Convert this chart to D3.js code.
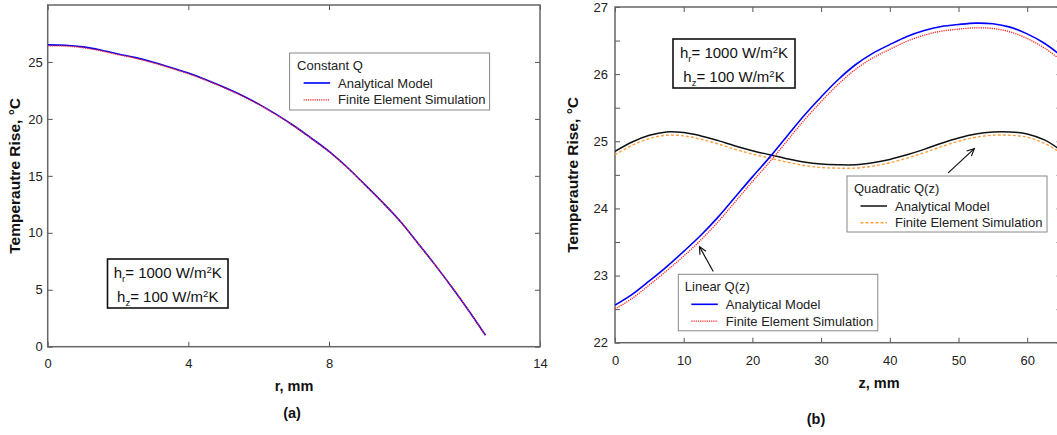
<!DOCTYPE html>
<html>
<head>
<meta charset="utf-8">
<script src="https://cdn.jsdelivr.net/npm/d3@7"></script>
<style>
body { margin: 0; background: #fff; overflow: hidden; }
svg { display: block; font-family: "Liberation Sans", Arial, sans-serif; }
.tick text { font-size: 13px; fill: #222; }
.tick line { stroke: #555; stroke-width: 1; }
.frame { fill: none; stroke: #666; stroke-width: 1.5; }
.lgd { fill: #fff; stroke: #888; stroke-width: 1; }
.pbox { fill: #fff; stroke: #111; stroke-width: 1.6; }
.ttl { font-size: 14.5px; font-weight: bold; fill: #111; }
</style>
</head>
<body>
<svg width="1057" height="435"></svg>
<script>
// ---- panel (a): constant Q, temperature rise vs r ----
var rVals = [0, 0.5, 1, 1.5, 2, 2.5, 3, 3.5, 4, 4.5, 5, 5.5, 6, 6.5, 7, 7.5, 8, 8.5, 9, 9.5, 10, 10.5, 11, 11.5, 12, 12.45];
var constAnalytical = [26.5, 26.46, 26.32, 26.05, 25.7, 25.38, 24.98, 24.52, 24.02, 23.44, 22.8, 22.1, 21.3, 20.4, 19.4, 18.3, 17.15, 15.8, 14.3, 12.75, 11.1, 9.2, 7.25, 5.2, 3.05, 1.0];
var constFE = [26.42, 26.39, 26.25, 25.98, 25.64, 25.32, 24.92, 24.46, 23.96, 23.39, 22.75, 22.05, 21.26, 20.36, 19.37, 18.27, 17.12, 15.78, 14.28, 12.74, 11.09, 9.19, 7.24, 5.2, 3.05, 1.0];
var rTicks = [0, 4, 8, 14];
var tempTicksA = [0, 5, 10, 15, 20, 25];

// ---- panel (b): linear and quadratic Q(z), temperature rise vs z ----
var zVals = [0, 2.5, 5, 7.5, 10, 12.5, 15, 17.5, 20, 22.5, 25, 27.5, 30, 32.5, 35, 37.5, 40, 42.5, 45, 47.5, 50, 52.5, 55, 57.5, 60, 62.5, 65];
var linAnalytical = [22.56, 22.72, 22.92, 23.13, 23.36, 23.6, 23.87, 24.17, 24.47, 24.76, 25.07, 25.38, 25.66, 25.92, 26.14, 26.31, 26.44, 26.56, 26.65, 26.71, 26.74, 26.76, 26.75, 26.7, 26.6, 26.46, 26.27];
var linFE = [22.5, 22.66, 22.86, 23.07, 23.29, 23.53, 23.8, 24.1, 24.4, 24.69, 25.0, 25.31, 25.59, 25.85, 26.07, 26.24, 26.37, 26.49, 26.58, 26.64, 26.67, 26.69, 26.68, 26.63, 26.53, 26.39, 26.2];
var quadAnalytical = [24.85, 24.99, 25.09, 25.14, 25.13, 25.08, 25.01, 24.93, 24.86, 24.8, 24.74, 24.69, 24.66, 24.65, 24.65, 24.68, 24.73, 24.8, 24.88, 24.97, 25.05, 25.11, 25.14, 25.14, 25.11, 25.02, 24.86];
var quadFE = [24.8, 24.94, 25.04, 25.09, 25.08, 25.03, 24.96, 24.88, 24.81, 24.75, 24.69, 24.64, 24.61, 24.6, 24.6, 24.63, 24.68, 24.75, 24.83, 24.92, 25.0, 25.06, 25.09, 25.09, 25.06, 24.97, 24.82];
var zTicks = [0, 10, 20, 30, 40, 50, 60];
var tempTicksB = [22, 22.5, 23, 23.5, 24, 24.5, 25, 25.5, 26, 26.5, 27];

var styles = {
    blue:   {color: '#0000ff', width: 1.6, dash: null},
    red:    {color: '#ff2020', width: 1.3, dash: '1.2,1'},
    black:  {color: '#111111', width: 1.5, dash: null},
    orange: {color: '#ffa040', width: 1.4, dash: '3,2'}
};

var svg = d3.select('svg');

// panel a
var pa = getPanel(47.7, 5, 540, 346.7);
var xa = d3.scaleLinear().domain([0, 14]).range([pa.x0, pa.x1]);
var ya = d3.scaleLinear().domain([0, 30]).range([pa.y1, pa.y0]);
addAxes(pa, xa, ya, rTicks, tempTicksA, 12, 5, function(d) { return d; });
addLine(pa, xa, ya, rVals, constAnalytical, styles.blue);
addLine(pa, xa, ya, rVals, constFE, styles.red);
addLegend(289.6, 53, 200, 57, 'Constant Q', ['Analytical Model', 'Finite Element Simulation'], [styles.blue, styles.red], 7.5);
addParamBox(107.5, 259, 120.5, 49);
addTitle(294, 391, 'r, mm');
addTitle(292, 418, '(a)');
addYTitle(15, (pa.y0 + pa.y1) / 2);

// panel b
var pb = getPanel(615, 7, 615 + 65 * 6.87, 342.7);
var xb = d3.scaleLinear().domain([0, 65]).range([pb.x0, pb.x1]);
var yb = d3.scaleLinear().domain([22, 27]).range([pb.y1, pb.y0]);
addAxes(pb, xb, yb, zTicks, tempTicksB, 13, 7, function(d) { return Number.isInteger(d) ? d : ''; });
addLine(pb, xb, yb, zVals, quadAnalytical, styles.black);
addLine(pb, xb, yb, zVals, quadFE, styles.orange);
addLine(pb, xb, yb, zVals, linAnalytical, styles.blue);
addLine(pb, xb, yb, zVals, linFE, styles.red);
addArrow(xb(48.5), yb(24.53), xb(52.3), yb(24.89));
addArrow(xb(14.3), yb(23.06), xb(12.3), yb(23.43));
addLegend(847, 176, 200, 56, 'Quadratic Q(z)', ['Analytical Model', 'Finite Element Simulation'], [styles.black, styles.orange], 7);
addLegend(678.3, 274.3, 199.5, 56.5, 'Linear Q(z)', ['Analytical Model', 'Finite Element Simulation'], [styles.blue, styles.red], 6.5);
addParamBox(673, 39, 122, 49);
addTitle(879, 388, 'z, mm');
addTitle(816, 424, '(b)');
addYTitle(573, (pb.y0 + pb.y1) / 2);


function getPanel(x0, y0, x1, y1) {
    var g = svg.append('g');
    var id = 'clip' + Math.round(x0);
    svg.append('clipPath').attr('id', id).append('rect')
        .attr('x', x0).attr('y', y0).attr('width', x1 - x0).attr('height', y1 - y0);
    g.clip = 'url(#' + id + ')';
    g.x0 = x0; g.y0 = y0; g.x1 = x1; g.y1 = y1;
    return g;
}

function addAxes(p, x, y, xt, yt, xpad, ypad, yfmt) {
    p.append('g').attr('transform', 'translate(0,' + p.y1 + ')')
        .call(d3.axisBottom(x).tickValues(xt).tickSizeInner(-5).tickSizeOuter(0).tickPadding(xpad));
    p.append('g').attr('transform', 'translate(0,' + p.y0 + ')')
        .call(d3.axisTop(x).tickValues(xt).tickSizeInner(-5).tickSizeOuter(0).tickFormat(''));
    p.append('g').attr('transform', 'translate(' + p.x0 + ',0)')
        .call(d3.axisLeft(y).tickValues(yt).tickSizeInner(-5).tickSizeOuter(0).tickPadding(ypad).tickFormat(yfmt));
    p.append('g').attr('transform', 'translate(' + p.x1 + ',0)')
        .call(d3.axisRight(y).tickValues(yt).tickSizeInner(-5).tickSizeOuter(0).tickFormat(''));
    p.selectAll('.domain').remove();
    p.selectAll('.tick text').attr('font-family', null).attr('font-size', null);
    p.append('rect').attr('class', 'frame')
        .attr('x', p.x0).attr('y', p.y0).attr('width', p.x1 - p.x0).attr('height', p.y1 - p.y0);
}

function addLine(p, x, y, xs, ys, st) {
    var line = d3.line().curve(d3.curveCatmullRom)
        .x(function(d) { return x(d[0]); })
        .y(function(d) { return y(d[1]); });
    p.append('path').datum(d3.zip(xs, ys))
        .attr('clip-path', p.clip)
        .attr('d', line)
        .attr('fill', 'none')
        .attr('stroke', st.color)
        .attr('stroke-width', st.width)
        .attr('stroke-dasharray', st.dash);
}

function addLegend(x, y, w, h, title, names, sts, pad) {
    var g = svg.append('g');
    g.append('rect').attr('class', 'lgd').attr('x', x).attr('y', y).attr('width', w).attr('height', h);
    g.append('text').attr('x', x + pad).attr('y', y + 16.5).attr('font-size', 13).attr('fill', '#222').text(title);
    names.forEach(function(n, i) {
        var cy = y + 30 + i * 16.8;
        g.append('line').attr('x1', x + pad + 6.5).attr('x2', x + pad + 33).attr('y1', cy).attr('y2', cy)
            .attr('stroke', sts[i].color).attr('stroke-width', sts[i].width).attr('stroke-dasharray', sts[i].dash);
        g.append('text').attr('x', x + pad + 41).attr('y', cy + 4.6).attr('font-size', 13).attr('fill', '#222').text(n);
    });
}

function addParamBox(x, y, w, h) {
    var g = svg.append('g');
    g.append('rect').attr('class', 'pbox').attr('x', x).attr('y', y).attr('width', w).attr('height', h);
    ['r', 'z'].forEach(function(s, i) {
        var t = g.append('text').attr('x', x + w / 2).attr('y', y + 18.5 + i * 24)
            .attr('text-anchor', 'middle').attr('font-size', 15).attr('fill', '#111');
        t.append('tspan').text('h');
        t.append('tspan').attr('font-size', 9.5).attr('dy', 4).text(s);
        t.append('tspan').attr('dy', -4).text(i === 0 ? '= 1000 W/m' : '= 100 W/m');
        t.append('tspan').attr('font-size', 9.5).attr('dy', -5).text('2');
        t.append('tspan').attr('dy', 5).text('K');
    });
}

function addArrow(x1, y1, x2, y2) {
    var a = Math.atan2(y2 - y1, x2 - x1), L = 8, s = 0.45;
    var g = svg.append('g').attr('stroke', '#111').attr('stroke-width', 1.2).attr('fill', 'none');
    g.append('line').attr('x1', x1).attr('y1', y1).attr('x2', x2).attr('y2', y2);
    g.append('path').attr('d', 'M' + (x2 - L * Math.cos(a - s)) + ',' + (y2 - L * Math.sin(a - s)) +
        'L' + x2 + ',' + y2 + 'L' + (x2 - L * Math.cos(a + s)) + ',' + (y2 - L * Math.sin(a + s)));
}

function addTitle(x, y, txt) {
    svg.append('text').attr('class', 'ttl').attr('x', x).attr('y', y).attr('text-anchor', 'middle').text(txt);
}

function addYTitle(x, y) {
    svg.append('text').attr('class', 'ttl').style('font-size', '15.5px')
        .attr('transform', 'translate(' + x + ',' + y + ') rotate(-90)')
        .attr('text-anchor', 'middle').attr('dy', '0.35em')
        .text('Temperautre Rise, °C');
}
</script>
</body>
</html>
